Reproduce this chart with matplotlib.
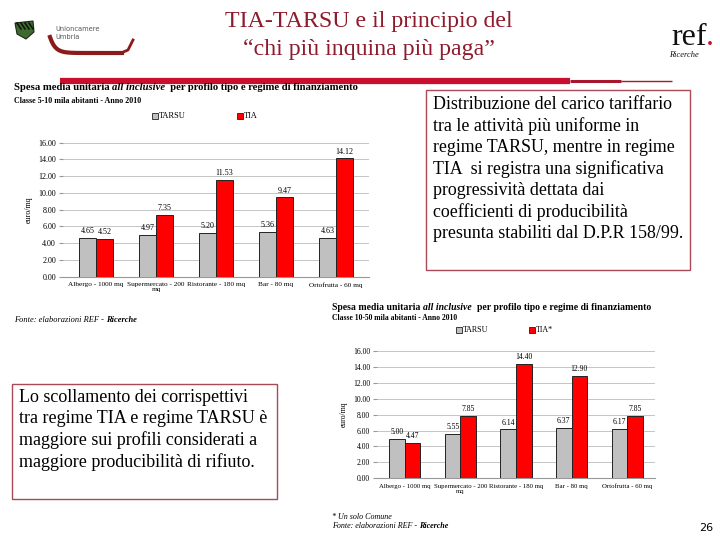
import numpy as np
import matplotlib
matplotlib.use("Agg")
import matplotlib.pyplot as plt
from matplotlib.patches import Rectangle, Polygon
from matplotlib.lines import Line2D

# data
profili_top = ["Albergo - 1000 mq", "Supermercato - 200\nmq", "Ristorante - 180 mq",
               "Bar - 80 mq", "Ortofrutta - 60 mq"]
tarsu_top = [4.65, 4.97, 5.20, 5.36, 4.63]
tia_top = [4.52, 7.35, 11.53, 9.47, 14.12]

profili_bot = ["Albergo - 1000 mq", "Supermercato - 200\nmq", "Ristorante - 180 mq",
               "Bar - 80 mq", "Ortofrutta - 60 mq"]
tarsu_bot = [5.00, 5.55, 6.14, 6.37, 6.17]
tia_bot = [4.47, 7.85, 14.40, 12.90, 7.85]

yticks = [0, 2, 4, 6, 8, 10, 12, 14, 16]

W, H = 720, 540
SERIF = "Liberation Serif"
RED = "#ff0000"
GREY = "#c0c0c0"
DARKRED = "#8e1b2c"

plt.rcParams["font.family"] = SERIF


def fx(x):
    return x / W


def fy(y):
    return 1 - y / H


fig = plt.figure(figsize=(7.2, 5.4), dpi=100)
fig.patch.set_facecolor("white")


def chain(x, y, parts, size):
    # place text pieces one after another on the same line
    fig.canvas.draw()
    r = fig.canvas.get_renderer()
    cur = fx(x)
    for txt, kw in parts:
        t = fig.text(cur, fy(y), txt, fontsize=size, va="center", **kw)
        cur = t.get_window_extent(r).x1 / W


def draw_chart(box, cats, tarsu, tia, xlim, fs):
    left, top, right, bottom = box
    ax = fig.add_axes([fx(left), fy(bottom), (right - left) / W, (bottom - top) / H])
    x = np.arange(len(cats))
    w = 0.28
    b1 = ax.bar(x - w / 2, tarsu, w, color=GREY, edgecolor="#222222", lw=0.7,
                label="TARSU", zorder=3)
    b2 = ax.bar(x + w / 2, tia, w, color=RED, edgecolor="#222222", lw=0.7,
                label="TIA", zorder=3)
    ax.bar_label(b1, labels=["%.2f" % v for v in tarsu], padding=2, fontsize=fs)
    ax.bar_label(b2, labels=["%.2f" % v for v in tia], padding=2, fontsize=fs)
    ax.set_ylim(0, 16)
    ax.set_xlim(*xlim)
    ax.set_yticks(yticks)
    ax.set_yticklabels(["%.2f" % v for v in yticks], fontsize=fs)
    ax.set_xticks(x)
    ax.set_xticklabels(cats, fontsize=fs - 0.6, linespacing=1.0)
    ax.tick_params(axis="x", length=0, pad=4)
    ax.tick_params(axis="y", length=3, color="#999999", pad=2)
    ax.grid(axis="y", color="#bbbbbb", lw=0.6, zorder=0)
    for s in ["top", "right", "left"]:
        ax.spines[s].set_visible(False)
    ax.spines["bottom"].set_color("#999999")
    ax.set_ylabel("euro/mq", fontsize=fs, labelpad=4)
    return ax


def legend_box(x, y, color, label, size):
    fig.add_artist(Rectangle((fx(x), fy(y + 3)), 6 / W, 6 / H, facecolor=color,
                             edgecolor="#222222", lw=0.6))
    fig.text(fx(x + 7), fy(y), label, fontsize=size, va="center")


# header
fig.text(fx(369), fy(22), "TIA-TARSU e il principio del", fontsize=17.2,
         color=DARKRED, ha="center", va="center")
fig.text(fx(369), fy(49), "\u201cchi pi\u00f9 inquina pi\u00f9 paga\u201d", fontsize=17.2,
         color=DARKRED, ha="center", va="center")
fig.add_artist(Line2D([fx(60), fx(570)], [fy(81), fy(81)], color="#c8102e", lw=4.5,
                      solid_capstyle="butt"))
fig.add_artist(Line2D([fx(570), fx(621)], [fy(81), fy(81)], color="#a8182c", lw=2.2,
                      solid_capstyle="butt"))
fig.add_artist(Line2D([fx(621), fx(672)], [fy(81), fy(81)], color="#a8182c", lw=1.0,
                      solid_capstyle="butt"))

# Unioncamere logo
shield = Polygon([(fx(15), fy(23)), (fx(33), fy(21)), (fx(34), fy(32)),
                  (fx(26), fy(39)), (fx(17), fy(34))], closed=True,
                 facecolor="#3d6b2e", edgecolor="#1a2a14", lw=0.8)
fig.add_artist(shield)
for k in range(4):
    fig.add_artist(Line2D([fx(17 + 4 * k), fx(21 + 4 * k)], [fy(23), fy(29)],
                          color="#111111", lw=1.1))
fig.text(fx(55), fy(29), "Unioncamere", fontsize=4.8, color="#555555",
         family="DejaVu Sans", va="center")
fig.text(fx(55), fy(36.5), "Umbria", fontsize=4.8, color="#555555",
         family="DejaVu Sans", va="center")
t = np.linspace(0, 1, 60)
sx = 50 + 72 * t
sy = 53 - 16 * np.exp(-t * 14)
fig.add_artist(Line2D(fx(sx), fy(sy), color="#8b1a1a", lw=3))
fig.add_artist(Line2D([fx(121), fx(128), fx(133)], [fy(53), fy(50), fy(40)],
                      color="#8b1a1a", lw=2))

# ref. logo
fig.text(fx(671), fy(45), "ref", fontsize=23, color="#111111", va="baseline")
fig.text(fx(706), fy(45), ".", fontsize=23, color="#c8102e", va="baseline")
fig.text(fx(669), fy(55), "Ricerche", fontsize=6, style="italic", color="#111111",
         va="center")

# top chart
draw_chart((63, 142.7, 369, 276.7), profili_top, tarsu_top, tia_top, (-0.55, 4.55), 5.8)
chain(14, 88, [("Spesa media unitaria ", dict(fontweight="bold")),
               ("all inclusive", dict(fontweight="bold", style="italic")),
               ("  per profilo tipo e regime di finanziamento", dict(fontweight="bold"))],
      7.7)
fig.text(fx(14), fy(101), "Classe 5-10 mila abitanti - Anno 2010", fontsize=5.8,
         fontweight="bold", va="center")
legend_box(152, 116, GREY, "TARSU", 6)
legend_box(237, 116, RED, "TIA", 6)
chain(14, 320, [("Fonte: elaborazioni REF - ", dict(style="italic")),
                ("Ricerche", dict(style="italic", fontweight="bold"))], 6)

# bottom chart
draw_chart((377, 351, 655, 478.3), profili_bot, tarsu_bot, tia_bot, (-0.5, 4.5), 5.5)
chain(332, 307, [("Spesa media unitaria ", dict(fontweight="bold")),
                 ("all inclusive", dict(fontweight="bold", style="italic")),
                 ("  per profilo tipo e regime di finanziamento", dict(fontweight="bold"))],
      7.05)
fig.text(fx(332), fy(318), "Classe 10-50 mila abitanti - Anno 2010", fontsize=5.5,
         fontweight="bold", va="center")
legend_box(456, 330, GREY, "TARSU", 5.8)
legend_box(529, 330, RED, "TIA*", 5.8)
fig.text(fx(332), fy(517), "* Un solo Comune", fontsize=5.8, style="italic",
         va="center")
chain(332, 526, [("Fonte: elaborazioni REF - ", dict(style="italic")),
                 ("Ricerche", dict(style="italic", fontweight="bold"))], 5.8)

# comment boxes
fig.add_artist(Rectangle((fx(426), fy(270)), 264 / W, 180 / H, facecolor="white",
                         edgecolor="#a84a58", lw=1.0))
fig.text(fx(433), fy(96),
         "Distribuzione del carico tariffario\ntra le attivit\u00e0 pi\u00f9 uniforme in\n"
         "regime TARSU, mentre in regime\nTIA  si registra una significativa\n"
         "progressivit\u00e0 dettata dai\ncoefficienti di producibilit\u00e0\n"
         "presunta stabiliti dal D.P.R 158/99.",
         fontsize=12.9, va="top", linespacing=1.3, family=SERIF)
fig.add_artist(Rectangle((fx(12), fy(499)), 265 / W, 115 / H, facecolor="white",
                         edgecolor="#a84a58", lw=1.0))
fig.text(fx(19), fy(389),
         "Lo scollamento dei corrispettivi\ntra regime TIA e regime TARSU \u00e8\n"
         "maggiore sui profili considerati a\nmaggiore producibilit\u00e0 di rifiuto.",
         fontsize=13, va="top", linespacing=1.3, family=SERIF)

fig.text(fx(706), fy(528), "26", fontsize=8, family="DejaVu Sans", ha="center",
         va="center")

fig.savefig("out.png", dpi=100)
